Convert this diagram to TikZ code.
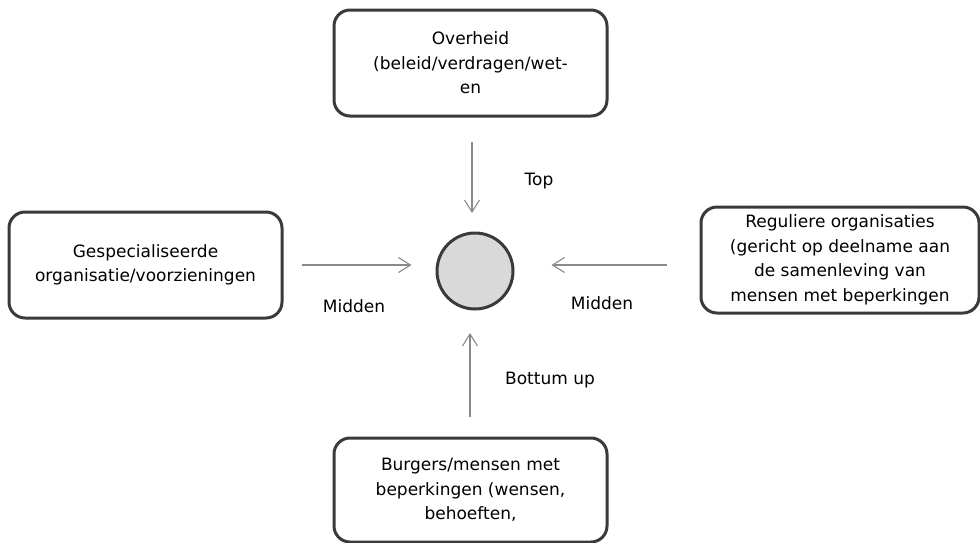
\documentclass[tikz,border=0pt]{standalone}
\usepackage{fontspec}
\setmainfont{DejaVu Sans}
\usetikzlibrary{arrows.meta}
\definecolor{boxline}{HTML}{3A3A3A}
\definecolor{arrowgray}{HTML}{8A8A8A}
\definecolor{circfill}{HTML}{D9D9D9}
\tikzset{
  actor/.style={draw=boxline, line width=3pt, rounded corners=16pt, align=center,
    font=\fontsize{17}{24.5}\selectfont, inner sep=0pt},
  flow/.style={draw=arrowgray, line width=1.1pt, -{Straight Barb[length=12pt,width=15pt]}},
  lbl/.style={font=\fontsize{17}{20}\selectfont, inner sep=0pt}
}
\begin{document}
\begin{tikzpicture}[x=1pt,y=-1pt]
\useasboundingbox (0,0) rectangle (980,542);
\node[actor, minimum width=273pt, minimum height=106pt] (top) at (470.5,63) {Overheid\\(beleid/verdragen/wet-\\en};
\node[actor, minimum width=273pt, minimum height=106pt] (left) at (145.5,265) {Gespecialiseerde\\organisatie/voorzieningen};
\node[actor, minimum width=278pt, minimum height=106pt] (right) at (840,260) {Reguliere organisaties\\(gericht op deelname aan\\de samenleving van\\mensen met beperkingen};
\node[actor, minimum width=273pt, minimum height=104pt] (bottom) at (470.5,490) {Burgers/mensen met\\beperkingen (wensen,\\behoeften,};
\node[circle, draw=boxline, fill=circfill, line width=3pt, minimum size=76pt, inner sep=0pt] (circ) at (475,271) {};
\coordinate (tin) at (472,213);
\coordinate (tout) at (472,142);
\coordinate (bin) at (470,333);
\coordinate (bout) at (470,417);
\draw[flow] (tout) -- (tin);
\draw[flow] (bout) -- (bin);
\draw[flow, shorten <=18pt, shorten >=24pt] (left.east) -- (left.east -| circ.west);
\draw[flow, shorten <=33pt, shorten >=37pt] (right.west |- 0,265) -- (circ.east |- 0,265);
\node[lbl] (ltop) at (539,181) {Top};
\node[lbl] (lleft) at (354,306) {Midden};
\node[lbl] (lright) at (602,303) {Midden};
\node[lbl] (lbottom) at (550,380) {Bottum up};
\end{tikzpicture}
\end{document}
